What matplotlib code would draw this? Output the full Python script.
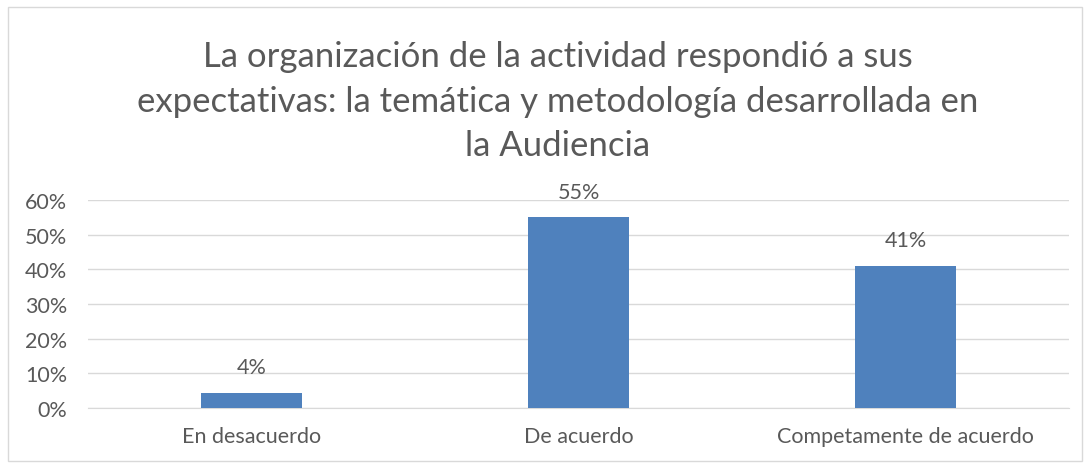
import matplotlib
matplotlib.use("Agg")
import matplotlib.pyplot as plt
from matplotlib.patches import Rectangle

categories = ["En desacuerdo", "De acuerdo", "Competamente de acuerdo"]
values = [0.043, 0.55, 0.41]
labels = ["4%", "55%", "41%"]
yticks = [0.0, 0.1, 0.2, 0.3, 0.4, 0.5, 0.6]
title_lines = [
    "La organización de la actividad respondió a sus",
    "expectativas: la temática y metodología desarrollada en",
    "la Audiencia",
]

text_color = "#595959"
grid_color = "#d9d9d9"
bar_color = "#4f81bd"

plt.rcParams["font.family"] = ["Lato", "DejaVu Sans"]

W, H = 1091, 464
fig = plt.figure(figsize=(W / 100, H / 100), dpi=100)

# outer chart border
fig.patches.append(Rectangle((8 / W, 2 / H), 1074 / W, 454 / H,
                             transform=fig.transFigure, fill=False,
                             edgecolor=grid_color, linewidth=1))

ax = fig.add_axes([88 / W, 55 / H, 981 / W, 208 / H])
x = range(len(categories))
bars = ax.bar(x, values, width=0.31, color=bar_color, zorder=3)
for b, lab in zip(bars, labels):
    ax.text(b.get_x() + b.get_width() / 2, b.get_height() + 0.045, lab,
            ha="center", va="bottom", fontsize=15.5, color=text_color)

ax.set_xlim(-0.5, len(categories) - 0.5)
ax.set_ylim(0, 0.6)
ax.set_yticks(yticks)
ax.set_yticklabels([f"{int(round(t * 100))}%" for t in yticks])
ax.set_xticks(list(x))
ax.set_xticklabels(categories)
ax.tick_params(axis="both", length=0, labelsize=15.5, colors=text_color)
ax.tick_params(axis="y", pad=15)
ax.tick_params(axis="x", pad=13)
ax.grid(axis="y", color=grid_color, linewidth=1, zorder=0)
for side in ["top", "right", "left"]:
    ax.spines[side].set_visible(False)
ax.spines["bottom"].set_color(grid_color)

for i, line in enumerate(title_lines):
    fig.text(558 / W, 1 - (57 + i * 44.5) / H, line, ha="center", va="center",
             fontsize=25, color=text_color)

fig.savefig("out.png", dpi=100)
